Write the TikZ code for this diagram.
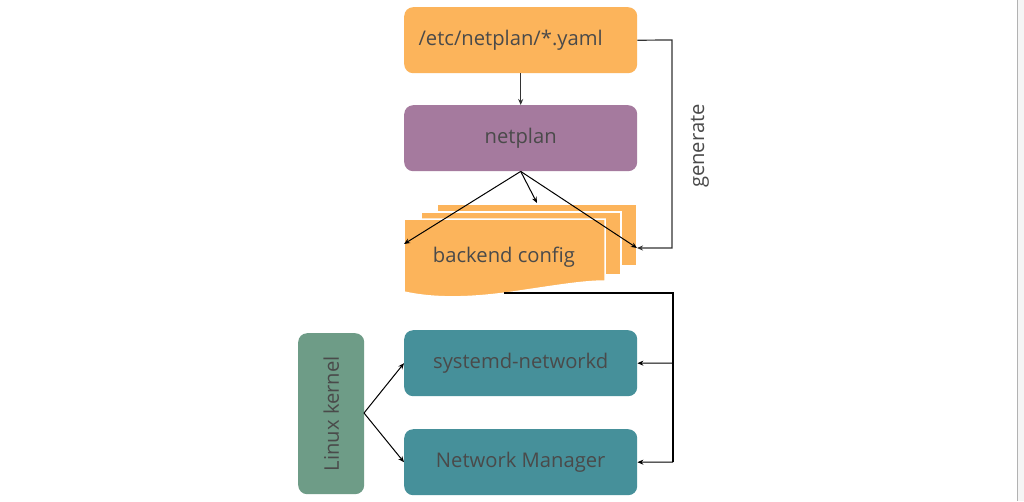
\documentclass[tikz,border=0pt]{standalone}
\usepackage{fontspec}
\setmainfont{Open Sans}
\usetikzlibrary{arrows.meta}
\definecolor{orangeb}{HTML}{FCB45B}
\definecolor{purpleb}{HTML}{A57A9E}
\definecolor{tealb}{HTML}{46909A}
\definecolor{greenb}{HTML}{6E9C87}
\definecolor{txt}{HTML}{4A4A4A}
\definecolor{lineg}{HTML}{333333}
\begin{document}
\begin{tikzpicture}[x=1pt,y=-1pt,
  lbl/.style={text=txt, font=\fontsize{20.2}{22}\selectfont},
  box/.style={lbl, rounded corners=9pt, inner sep=0pt, minimum width=233pt, minimum height=66pt},
  sheet/.style={fill=orangeb, draw=white, line width=1.5pt},
  arr/.style={-{Stealth[length=6pt,width=5pt]}, line width=1pt, draw=black},
  garr/.style={-{Stealth[length=6pt,width=5pt]}, line width=1.2pt, draw=lineg},
  thick line/.style={line width=2pt, draw=black}]
\useasboundingbox (0,0) rectangle (1024,501);
\fill[white] (0,0) rectangle (1024,501);
% right edge artifact
\fill[gray!8] (1018,0) rectangle (1024,501);
\draw[gray!60, line width=1.5pt] (1017.5,0) -- (1017.5,501);

% boxes
\node[box, fill=orangeb, anchor=north west] (yaml) at (404,7) {};
\node[lbl, anchor=west] (yamlt) at (415,40) {/etc/netplan/*.yaml};
\node[box, fill=purpleb, anchor=north west] (netplan) at (404,105) {netplan};
\node[box, fill=tealb, anchor=north west] (systemd) at (404,330) {systemd-networkd};
\node[box, fill=tealb, anchor=north west] (nm) at (404,429) {Network Manager};
\node[box, fill=greenb, minimum width=66pt, minimum height=161pt, anchor=north west] (kernel) at (298,333) {};
\node[lbl, rotate=90] (kernelt) at (kernel.center) {Linux kernel};

% backend config sheets
\path[sheet] (437,204) rectangle (637,266);
\path[sheet] (421,212) rectangle (621,275);
\path[sheet] (404,219) -- (605,219) -- (605,281)
  .. controls (585,281) and (560,285) .. (520,291)
  .. controls (480,297) and (440,300) .. (404,292) -- cycle;
\node[lbl] (backend) at (504,257) {backend config};
\coordinate (bleft) at (404,244);
\coordinate (btop) at (537,203);
\coordinate (bright) at (637,248);
\coordinate (bbot) at (504,293);

% connectors
\draw[garr] (yaml.south) -- (netplan.north);
\draw[arr] (netplan.south) -- (bleft);
\draw[arr] (netplan.south) -- (btop);
\draw[arr] (netplan.south) -- (bright);
\draw[garr] (yaml.east) -- (672,40) -- (672,248) -- (bright);
\node[lbl, rotate=90] (gen) at (700,146) {generate};

\draw[thick line] (bbot) -- (673,293) -- (673,462);
\draw[arr] (673,363) -- (systemd.east);
\draw[arr] (673,462) -- (nm.east);

\coordinate (kout) at (364,413);
\draw[arr] (kout) -- (systemd.west);
\draw[arr] (kout) -- (nm.west);
\end{tikzpicture}
\end{document}
